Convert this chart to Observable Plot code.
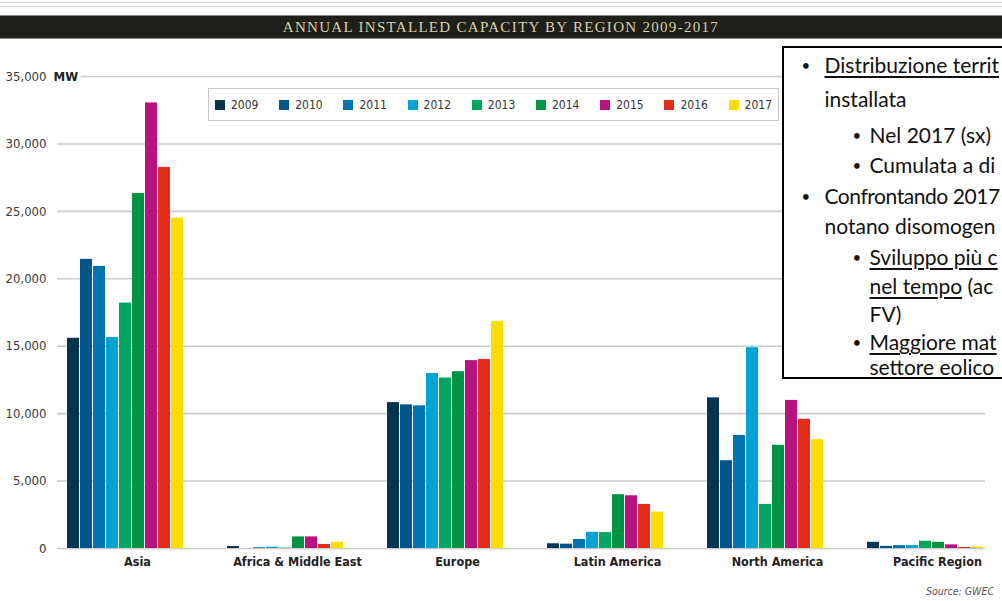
<!DOCTYPE html>
<html>
<head>
<meta charset="utf-8">
<script src="https://cdn.jsdelivr.net/npm/d3@7"></script>
<script src="https://cdn.jsdelivr.net/npm/@observablehq/plot@0.6"></script>
<style>
  html, body { margin: 0; padding: 0; background: #fff; width: 1002px; height: 601px; overflow: hidden; }
  #page { position: relative; width: 1002px; height: 601px; overflow: hidden; font-family: "DejaVu Sans Condensed", "DejaVu Sans", sans-serif; font-stretch: condensed; }
  .topline { position: absolute; left: 0; width: 1002px; height: 1px; background: #cfcfcf; }
  #titlebar { position: absolute; left: 0; top: 15px; width: 1002px; height: 24px; box-sizing: border-box;
    background: #1e1e1b; border-top: 1px solid #8a8a86; border-bottom: 1px solid #8a8a86;
    display: flex; align-items: center; justify-content: center; }
  #titlebar span { font-family: "Liberation Serif", "DejaVu Serif", serif; font-size: 15px; color: #d9d0a8; letter-spacing: 1.3px; }
  #chart { position: absolute; left: 0; top: 47px; width: 1002px; height: 554px; }
  #chart svg { position: absolute; left: 0; top: 0; }
  #legend { position: absolute; left: 208px; top: 88px; width: 571px; height: 33px; box-sizing: border-box; border: 1px solid #c9c9c9; background: #fff; }
  .item { position: absolute; top: 0; height: 31px; display: flex; align-items: center; font-size: 12px; color: #333; }
  .sw { width: 10px; height: 10px; margin-right: 6px; }
  #note { position: absolute; left: 782px; top: 46px; width: 280px; height: 333px; box-sizing: border-box; border: 2.5px solid #000; background: #fff; }
  .ln { position: absolute; white-space: nowrap; font-family: Lato, "Open Sans", sans-serif; font-size: 21px; line-height: 21px; color: #111; font-stretch: normal; }
  .u { text-decoration: underline; text-decoration-thickness: 1.5px; text-underline-offset: 3px; }
  #source { position: absolute; right: 8px; top: 585px; font-style: italic; font-size: 10.5px; color: #555; }
</style>
</head>
<body>
<div id="page">
  <div class="topline" style="top:2px"></div>
  <div class="topline" style="top:6px"></div>
  <div id="titlebar"><span>ANNUAL INSTALLED CAPACITY BY REGION 2009-2017</span></div>
  <div id="chart"></div>
  <div id="legend"></div>
  <div id="note"></div>
  <div id="source">Source: GWEC</div>
</div>
<script>
// ---- data ----
const regions = ["Asia", "Africa & Middle East", "Europe", "Latin America", "North America", "Pacific Region"];
const years = ["2009", "2010", "2011", "2012", "2013", "2014", "2015", "2016", "2017"];
const yearColors = ["#06344f", "#04558a", "#0173af", "#00a3d1", "#00a55f", "#009444", "#b6137e", "#e42d17", "#fedd00"];
const asia         = [15590, 21440, 20920, 15650, 18200, 26320, 33040, 28260, 24500];
const africaME     = [150, 0, 60, 100, 30, 860, 860, 300, 460];
const europe       = [10820, 10650, 10580, 12970, 12640, 13110, 13930, 14020, 16840];
const latinAmerica = [350, 320, 670, 1200, 1180, 3990, 3910, 3270, 2700];
const northAmerica = [11170, 6510, 8380, 14890, 3270, 7650, 10980, 9580, 8070];
const pacific      = [460, 160, 215, 215, 540, 460, 270, 80, 110];
const yTicks = [0, 5000, 10000, 15000, 20000, 25000, 30000, 35000];
const unitLabel = "MW";

const series = [asia, africaME, europe, latinAmerica, northAmerica, pacific];
const table = regions.flatMap((r, i) => years.map((y, j) => ({region: r, year: y, value: series[i][j]})));

const font = '"DejaVu Sans Condensed", "DejaVu Sans", sans-serif';
const common = {
  width: 1002, height: 554,
  marginLeft: 57, marginRight: 17, marginTop: 29, marginBottom: 53,
  style: {fontFamily: font, fontSize: "13px", color: "#3a3a3a", background: "transparent"}
};
const yScale = {domain: [yTicks[0], yTicks[yTicks.length - 1]]};
const fmt = d3.format(",");

// layer 1: grid, unit label and value axis
const gridLayer = Plot.plot({
  ...common,
  y: {...yScale, axis: null},
  marks: [
    Plot.ruleY(yTicks, {stroke: "#cacaca", strokeWidth: 1.6}),
    Plot.text([{label: unitLabel, v: yTicks[yTicks.length - 1]}], {
      y: "v", text: "label", frameAnchor: "left", textAnchor: "start", dx: -4,
      fontWeight: "bold", fontSize: 13, fill: "#222", stroke: "white", strokeWidth: 8, paintOrder: "stroke"
    }),
    Plot.axisY(yTicks, {tickSize: 0, tickPadding: 11, tickFormat: fmt, label: null, fontSize: 13, fill: "#3a3a3a"})
  ]
});

// layer 2: grouped bars with region axis
const barLayer = Plot.plot({
  ...common,
  fx: {domain: regions, paddingInner: 0.25, paddingOuter: 0.025, align: 1, label: null},
  x: {domain: years, paddingInner: 0.1, paddingOuter: 0, axis: null},
  y: {...yScale, axis: null},
  color: {domain: years, range: yearColors},
  marks: [
    Plot.barY(table, {fx: "region", x: "year", y: "value", fill: "year"}),
    Plot.axisFx({anchor: "bottom", tickSize: 0, tickPadding: 9, fontSize: 12.5, fontWeight: "bold", fill: "#222", dx: 12, label: null})
  ]
});
const chartDiv = document.getElementById("chart");
chartDiv.appendChild(gridLayer);
chartDiv.appendChild(barLayer);

// ---- legend ----
const legend = document.getElementById("legend");
years.forEach((y, i) => {
  const it = document.createElement("div");
  it.className = "item";
  it.style.left = (6 + i * 64.2) + "px";
  const sw = document.createElement("span");
  sw.className = "sw";
  sw.style.background = yearColors[i];
  const tx = document.createElement("span");
  tx.textContent = y;
  it.appendChild(sw); it.appendChild(tx);
  legend.appendChild(it);
});

// ---- note box (text as visible in the reference, which cuts it at the right edge) ----
const noteLines = [
  {lvl: 1, bullet: true,  base: 73,  parts: [["Distribuzione territ", true]]},
  {lvl: 1, bullet: false, base: 107, parts: [["installata", false]]},
  {lvl: 2, bullet: true,  base: 143, parts: [["Nel 2017 (sx)", false]]},
  {lvl: 2, bullet: true,  base: 173, parts: [["Cumulata a di", false]]},
  {lvl: 1, bullet: true,  base: 204, parts: [["Confrontando 2017", false]], tight: true},
  {lvl: 1, bullet: false, base: 234, parts: [["notano disomogen", false]]},
  {lvl: 2, bullet: true,  base: 265, parts: [["Sviluppo più c", true]]},
  {lvl: 2, bullet: false, base: 294, parts: [["nel tempo", true], [" (ac", false]]},
  {lvl: 2, bullet: false, base: 322, parts: [["FV)", false]]},
  {lvl: 2, bullet: true,  base: 350, parts: [["Maggiore mat", true]]},
  {lvl: 2, bullet: false, base: 375, parts: [["settore eolico", false]]}
];
const note = document.getElementById("note");
const boxLeft = 782, boxTop = 46, border = 2.5, ascentOffset = 18.6;
noteLines.forEach(l => {
  const top = l.base - ascentOffset - boxTop - border;
  const textX = (l.lvl === 1 ? 825 : 870) - boxLeft - border;
  const bulletX = (l.lvl === 1 ? 802 : 853) - boxLeft - border;
  if (l.bullet) {
    const b = document.createElement("div");
    b.className = "ln";
    b.style.left = bulletX + "px"; b.style.top = (top + 1) + "px"; b.style.fontSize = "15px";
    b.textContent = "•";
    note.appendChild(b);
  }
  const d = document.createElement("div");
  d.className = "ln";
  d.style.left = textX + "px"; d.style.top = top + "px";
  if (l.tight) d.style.letterSpacing = "-0.45px";
  l.parts.forEach(([t, u]) => {
    const s = document.createElement("span");
    if (u) s.className = "u";
    s.textContent = t;
    d.appendChild(s);
  });
  note.appendChild(d);
});
</script>
</body>
</html>
